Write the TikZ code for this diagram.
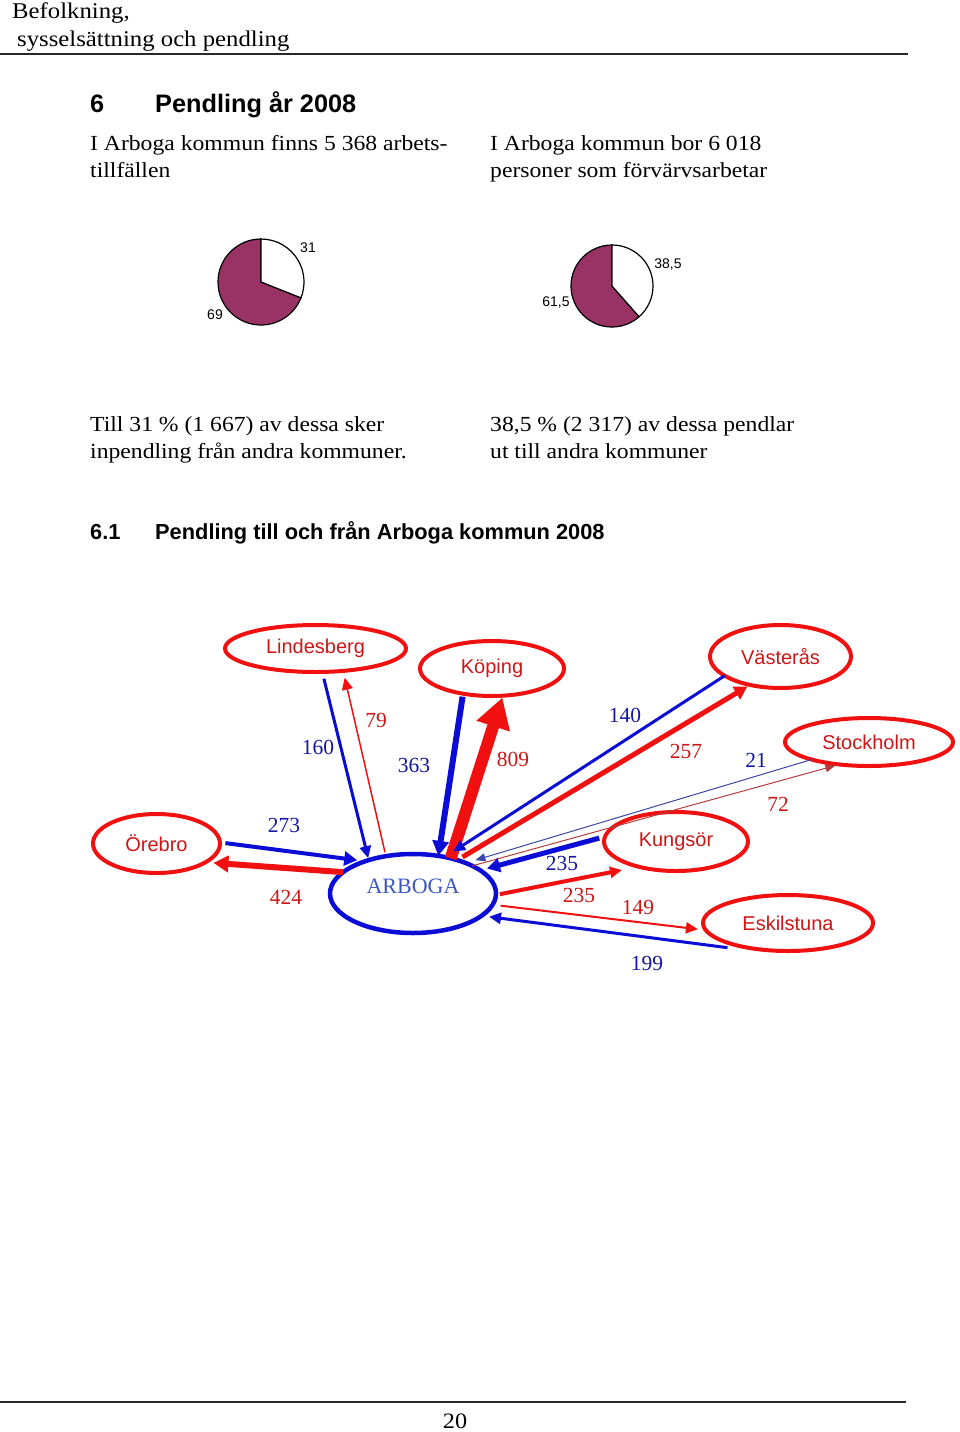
\documentclass[tikz,border=0pt]{standalone}
\usepackage{fontspec}
\setmainfont{Liberation Serif}
\setsansfont{Liberation Sans}
\newfontfamily\bodyfont{Liberation Serif}[FakeStretch=1.1]
\usetikzlibrary{shapes.geometric,arrows.meta}
\definecolor{lineRed}{RGB}{240,16,16}
\definecolor{lineBlue}{RGB}{12,12,215}
\definecolor{labRed}{RGB}{205,22,22}
\definecolor{labBlue}{RGB}{22,22,165}
\definecolor{arbBlue}{RGB}{60,90,190}
\definecolor{plum}{RGB}{153,51,102}
\definecolor{thinBlue}{RGB}{60,70,170}
\definecolor{thinRed}{RGB}{180,60,60}
\definecolor{ruleGray}{RGB}{40,40,40}
\begin{document}
\begin{tikzpicture}[x=1pt,y=1pt,
  txt/.style={anchor=base west, inner sep=0pt, font=\bodyfont\fontsize{21.5}{26}\selectfont},
  hdrtxt/.style={anchor=base west, inner sep=0pt, font=\bodyfont\fontsize{22.5}{26}\selectfont},
  headbig/.style={anchor=base west, inner sep=0pt, font=\sffamily\bfseries\fontsize{25.3}{30}\selectfont},
  headsub/.style={anchor=base west, inner sep=0pt, font=\sffamily\bfseries\fontsize{21.8}{26}\selectfont},
  pielab/.style={inner sep=0pt, font=\sffamily\fontsize{14}{16}\selectfont},
  pieslice/.style={draw=black, line width=1.2pt},
  place/.style={ellipse, draw=lineRed, line width=4pt, inner sep=0pt, outer sep=0pt,
    text=labRed, font=\sffamily\fontsize{20}{24}\selectfont},
  arbtxt/.style={text=arbBlue, font=\rmfamily\fontsize{22}{26}\selectfont},
  numB/.style={inner sep=0pt, text=labBlue, font=\rmfamily\fontsize{21.5}{25}\selectfont},
  numR/.style={inner sep=0pt, text=labRed, font=\rmfamily\fontsize{21.5}{25}\selectfont},
  flowB/.style={draw=lineBlue},
  flowR/.style={draw=lineRed},
  tipS/.style={-{Triangle[length=12pt,width=11pt]}},
  tipM/.style={-{Triangle[length=13pt,width=14pt]}},
  tipL/.style={-{Triangle[length=15pt,width=16pt]}},
  tipT/.style={-{Triangle[length=10pt,width=8pt]}},
  tipH/.style={-{Triangle[length=30pt,width=33pt]}},
  rulel/.style={draw=ruleGray, line width=1.5pt}
]
\fill[white] (0,0) rectangle (960,-1432);
\useasboundingbox (0,0) rectangle (960,-1432);

% page header
\node[hdrtxt] (h1) at (12,-19) {Befolkning,};
\node[hdrtxt] (h2) at (17,-46) {sysselsättning och pendling};
\draw[rulel] (0,-54) -- (908,-54);

% section heading
\node[headbig] (s6n) at (90,-112) {6};
\node[headbig] (s6t) at (155,-112) {Pendling år 2008};
\node[txt] (t1a) at (90,-150) {I Arboga kommun finns 5 368 arbets-};
\node[txt] (t1b) at (90,-177) {tillfällen};
\node[txt] (t2a) at (490,-150) {I Arboga kommun bor 6 018};
\node[txt] (t2b) at (490,-177) {personer som förvärvsarbetar};

% pie charts
\filldraw[pieslice, fill=plum] (261,-282) -- ++(90:43) arc[start angle=90, end angle=338.4, radius=43] -- cycle;
\filldraw[pieslice, fill=white] (261,-282) -- ++(90:43) arc[start angle=90, end angle=-21.6, radius=43] -- cycle;
\filldraw[pieslice, fill=plum] (612,-286) -- ++(90:41) arc[start angle=90, end angle=311.4, radius=41] -- cycle;
\filldraw[pieslice, fill=white] (612,-286) -- ++(90:41) arc[start angle=90, end angle=-48.6, radius=41] -- cycle;
\node[pielab] (p31) at (308,-248) {31};
\node[pielab] (p69) at (215,-315) {69};
\node[pielab] (p385) at (668,-265) {38,5};
\node[pielab] (p615) at (556,-303) {61,5};

\node[txt] (t3a) at (90,-431) {Till 31 \% (1 667) av dessa sker};
\node[txt] (t3b) at (90,-458) {inpendling från andra kommuner.};
\node[txt] (t4a) at (490,-431) {38,5 \% (2 317) av dessa pendlar};
\node[txt] (t4b) at (490,-458) {ut till andra kommuner};

\node[headsub] (s61n) at (90,-539) {6.1};
\node[headsub] (s61t) at (155,-539) {Pendling till och från Arboga kommun 2008};

% municipalities
\node[place, minimum width=181pt, minimum height=47pt] (lind) at (315.5,-648.5) {Lindesberg};
\node[place, minimum width=144pt, minimum height=55pt] (kop) at (492,-668.5) {Köping};
\node[place, minimum width=141pt, minimum height=63pt] (vas) at (780.5,-656.5) {Västerås};
\node[place, minimum width=168pt, minimum height=48pt] (sto) at (869,-742) {Stockholm};
\node[place, minimum width=127pt, minimum height=59pt] (ore) at (156.5,-843.5) {Örebro};
\node[place, minimum width=144pt, minimum height=59pt] (kun) at (676,-841.5) {Kungsör};
\node[place, minimum width=170pt, minimum height=56pt] (esk) at (788,-923) {Eskilstuna};
\node[place, draw=lineBlue, line width=4.5pt, minimum width=166pt, minimum height=79pt,
      label={[arbtxt, yshift=7.5pt]center:ARBOGA}] (arb) at (413,-893.5) {};

% flows
\draw[flowB, line width=3pt, tipS, shorten <=7pt, shorten >=2pt] (lind.-74) -- (arb.143);
\draw[flowR, line width=1.5pt, tipS, shorten <=4pt, shorten >=7pt] (arb.126) -- (lind.-39);
\draw[flowB, line width=6pt, tipL, shorten <=3pt] (kop.221.5) -- (arb.56.4);
\draw[flowR, line width=12pt, tipH, shorten >=2pt] (arb.43.7) -- (kop.-68);
\draw[flowB, line width=3pt, tipS, shorten >=10pt] (vas.199.4) -- (arb.49);
\draw[flowR, line width=5pt, tipM, shorten <=6pt, shorten >=3pt] (arb.37.4) -- (vas.223);
\draw[draw=thinBlue, line width=1pt, tipT, shorten >=10pt] (sto.197.7) -- (arb.30.3);
\draw[draw=thinRed, line width=1pt, tipT, shorten >=4pt] (arb.25.2) -- (sto.217.8);
\draw[flowB, line width=5pt, tipM, shorten <=6pt, shorten >=7pt] (kun.176) -- (arb.19.4);
\draw[flowR, line width=4pt, tipS, shorten <=4pt, shorten >=17pt] (arb.-1.6) -- (kun.214);
\draw[flowR, line width=2pt, tipS, shorten <=8pt, shorten >=8pt] (arb.-8.3) -- (esk.185.6);
\draw[flowB, line width=3pt, tipS, shorten >=7.5pt] ([yshift=-5pt]esk.198.4) -- (arb.-18.4);
\draw[flowB, line width=4pt, tipM, shorten <=5.5pt, shorten >=8pt] (ore.1) -- (arb.146.9);
\draw[flowR, line width=6pt, tipL, shorten >=8pt] (arb.163) -- (ore.-21.7);

% flow numbers
\node[numB] (n160) at (318,-747) {160};
\node[numR] (n79) at (376,-720) {79};
\node[numB] (n363) at (414,-765) {363};
\node[numR] (n809) at (513,-759) {809};
\node[numB] (n140) at (625,-715) {140};
\node[numR] (n257) at (686,-751) {257};
\node[numB] (n21) at (756,-760) {21};
\node[numR] (n72) at (778,-804) {72};
\node[numB] (n273) at (284,-825) {273};
\node[numR] (n424) at (286,-897) {424};
\node[numB] (n235b) at (562,-863) {235};
\node[numR] (n235r) at (579,-895) {235};
\node[numR] (n149) at (638,-907) {149};
\node[numB] (n199) at (647,-963) {199};

% footer
\draw[rulel] (0,-1402) -- (906,-1402);
\node[inner sep=0pt, font=\bodyfont\fontsize{22}{26}\selectfont] (pg) at (455,-1421) {20};
\end{tikzpicture}
\end{document}
